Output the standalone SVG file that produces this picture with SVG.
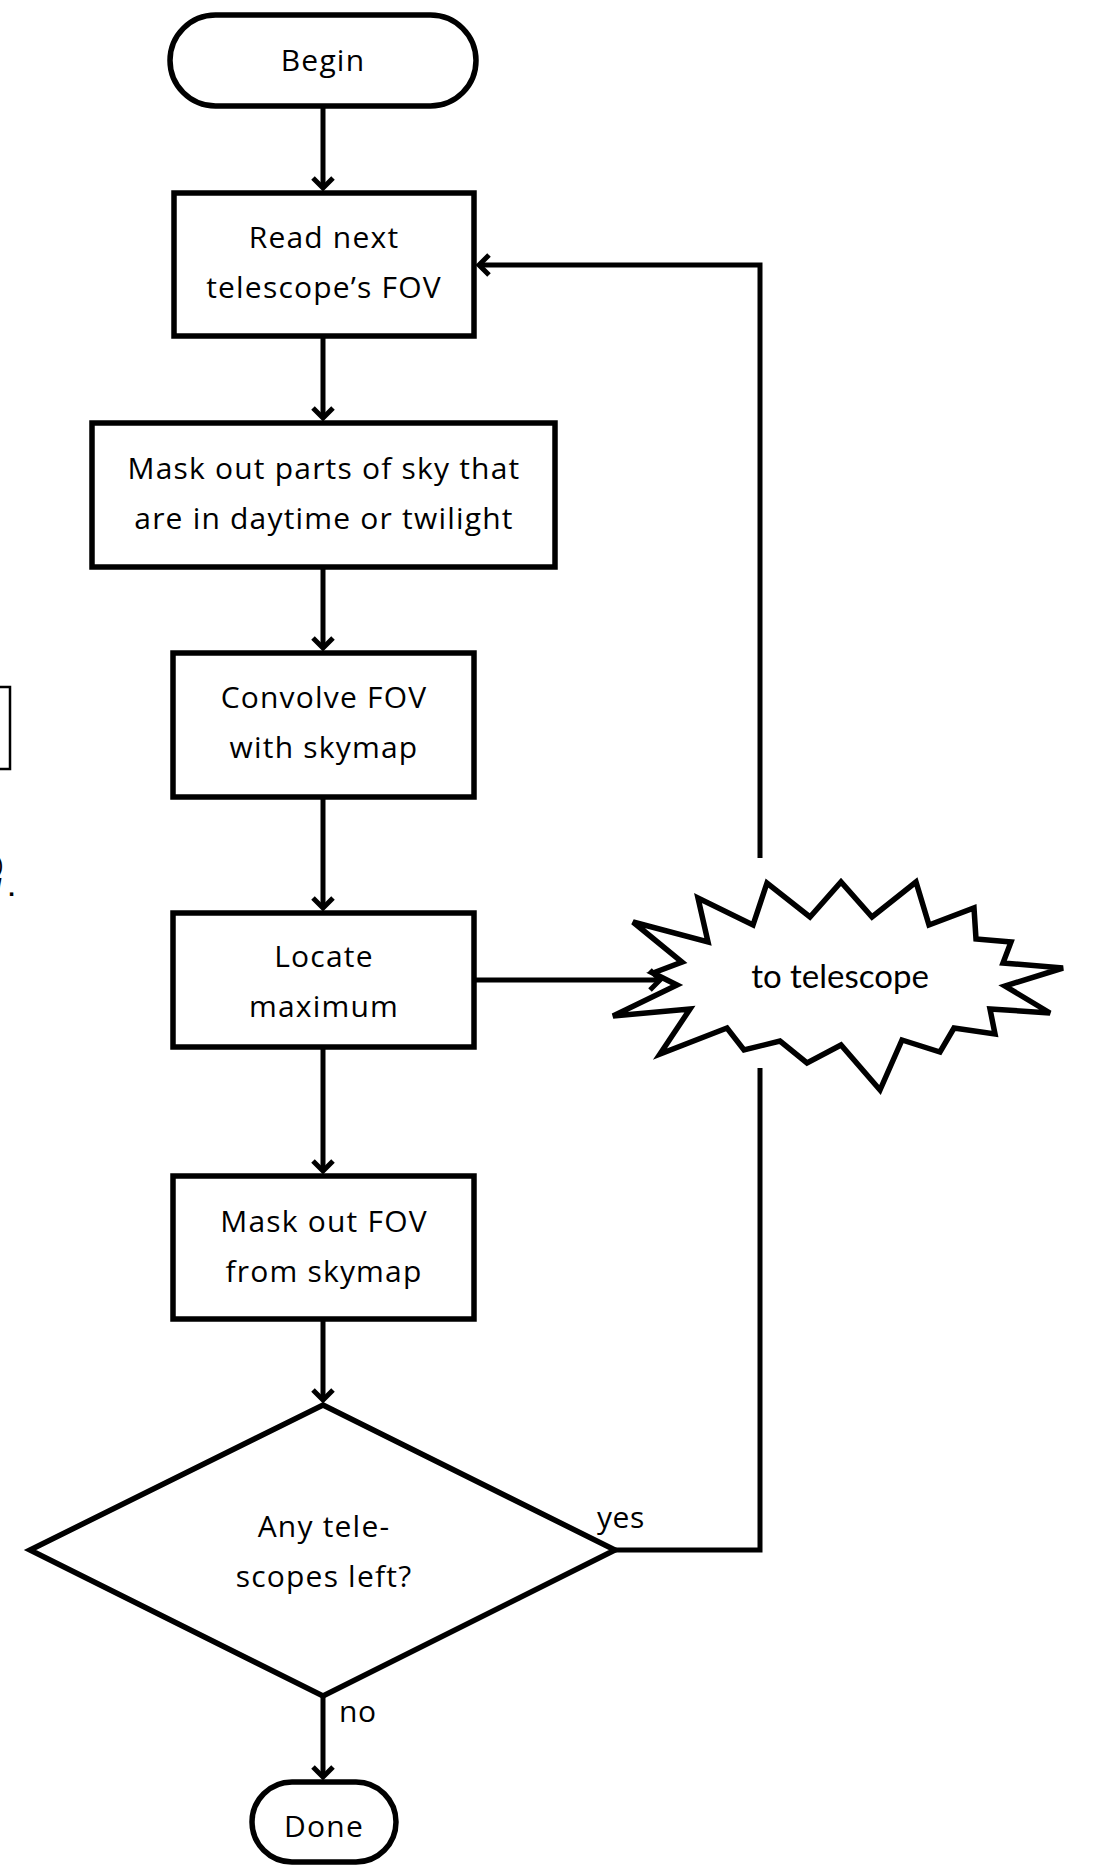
<svg xmlns="http://www.w3.org/2000/svg" width="1099" height="1866" viewBox="0 0 1099 1866">
<defs>
<style>
.box{fill:#fff;stroke:#000;stroke-width:5.5}
.ln{fill:none;stroke:#000;stroke-width:5}
.t{font-family:"Open Sans","Noto Sans","DejaVu Sans",sans-serif;font-size:30px;fill:#000;text-anchor:middle;letter-spacing:1.2px}
.lbl{font-family:"Open Sans","Noto Sans","DejaVu Sans",sans-serif;font-size:30px;fill:#000;letter-spacing:0.5px}
.c{font-family:Lato,"Open Sans",sans-serif;font-size:33px;fill:#000;text-anchor:middle}
.frag{font-family:"Liberation Sans",sans-serif;fill:#000}
</style>
<marker id="arr" markerUnits="userSpaceOnUse" markerWidth="30" markerHeight="30" viewBox="-15 -15 30 30" refX="0" refY="0" orient="auto">
<path d="M-10,-10 L0,0 L-10,10" fill="none" stroke="#000" stroke-width="5"/>
</marker>
</defs>
<rect width="1099" height="1866" fill="#fff"/>

<g id="fragment">
<rect x="-20" y="687" width="30" height="82" fill="none" stroke="#000" stroke-width="2.5"/>
<text class="frag"><tspan x="-4" y="872" font-size="22">)</tspan><tspan x="-5" y="896" font-size="24" font-weight="bold">/ .</tspan></text>
</g>

<g id="begin">
<rect class="box" x="170" y="15" width="306" height="91" rx="45.5" ry="45.5"/>
<text class="t" x="323" y="71">Begin</text>
</g>

<g id="read">
<rect class="box" x="174" y="193" width="300" height="143"/>
<text class="t" x="324" y="248">Read next</text>
<text class="t" x="324" y="298">telescope’s FOV</text>
</g>

<g id="masksky">
<rect class="box" x="92" y="423" width="463" height="144"/>
<text class="t" x="324" y="479">Mask out parts of sky that</text>
<text class="t" x="324" y="529">are in daytime or twilight</text>
</g>

<g id="convolve">
<rect class="box" x="173" y="653" width="301" height="144"/>
<text class="t" x="324" y="708">Convolve FOV</text>
<text class="t" x="324" y="758">with skymap</text>
</g>

<g id="locate">
<rect class="box" x="173" y="913" width="301" height="134"/>
<text class="t" x="324" y="967">Locate</text>
<text class="t" x="324" y="1017">maximum</text>
</g>

<g id="maskfov">
<rect class="box" x="173" y="1176" width="301" height="143"/>
<text class="t" x="324" y="1232">Mask out FOV</text>
<text class="t" x="324" y="1282">from skymap</text>
</g>

<g id="decision">
<polygon class="box" points="323,1405 615,1550 323,1696 30,1550"/>
<text class="t" x="324" y="1537">Any tele-</text>
<text class="t" x="324" y="1587">scopes left?</text>
</g>

<g id="done">
<rect class="box" x="252" y="1782" width="144" height="80" rx="40" ry="40"/>
<text class="t" x="324" y="1837">Done</text>
</g>

<g id="totelescope">
<polygon class="box" points="633,922 708,942 698,898 753,925 767,883 810,917 841,882 872,917 916,882 929,925 974,908 976,939 1011,942 1003,963 1063,968 1005,986 1050,1013 990,1009 995,1034 954,1028 940,1052 902,1040 880,1090 841,1045 807,1063 780,1041 744,1050 727,1028 660,1054 690,1009 613,1016 677,985 653,973 682,962"/>
<text class="c" x="840" y="988">to telescope</text>
</g>

<g id="connectors">
<line class="ln" x1="323" y1="106" x2="323" y2="188" marker-end="url(#arr)"/>
<line class="ln" x1="323" y1="336" x2="323" y2="418" marker-end="url(#arr)"/>
<line class="ln" x1="323" y1="567" x2="323" y2="648" marker-end="url(#arr)"/>
<line class="ln" x1="323" y1="797" x2="323" y2="908" marker-end="url(#arr)"/>
<line class="ln" x1="323" y1="1047" x2="323" y2="1171" marker-end="url(#arr)"/>
<line class="ln" x1="323" y1="1319" x2="323" y2="1400" marker-end="url(#arr)"/>
<line class="ln" x1="323" y1="1696" x2="323" y2="1777" marker-end="url(#arr)"/>
<line class="ln" x1="474" y1="980" x2="660" y2="980" marker-end="url(#arr)"/>
<path class="ln" d="M615,1550 H760 V1068"/>
<path class="ln" d="M760,858 V265 H479" marker-end="url(#arr)"/>
<text class="lbl" x="597" y="1528">yes</text>
<text class="lbl" x="339" y="1722">no</text>
</g>
</svg>
